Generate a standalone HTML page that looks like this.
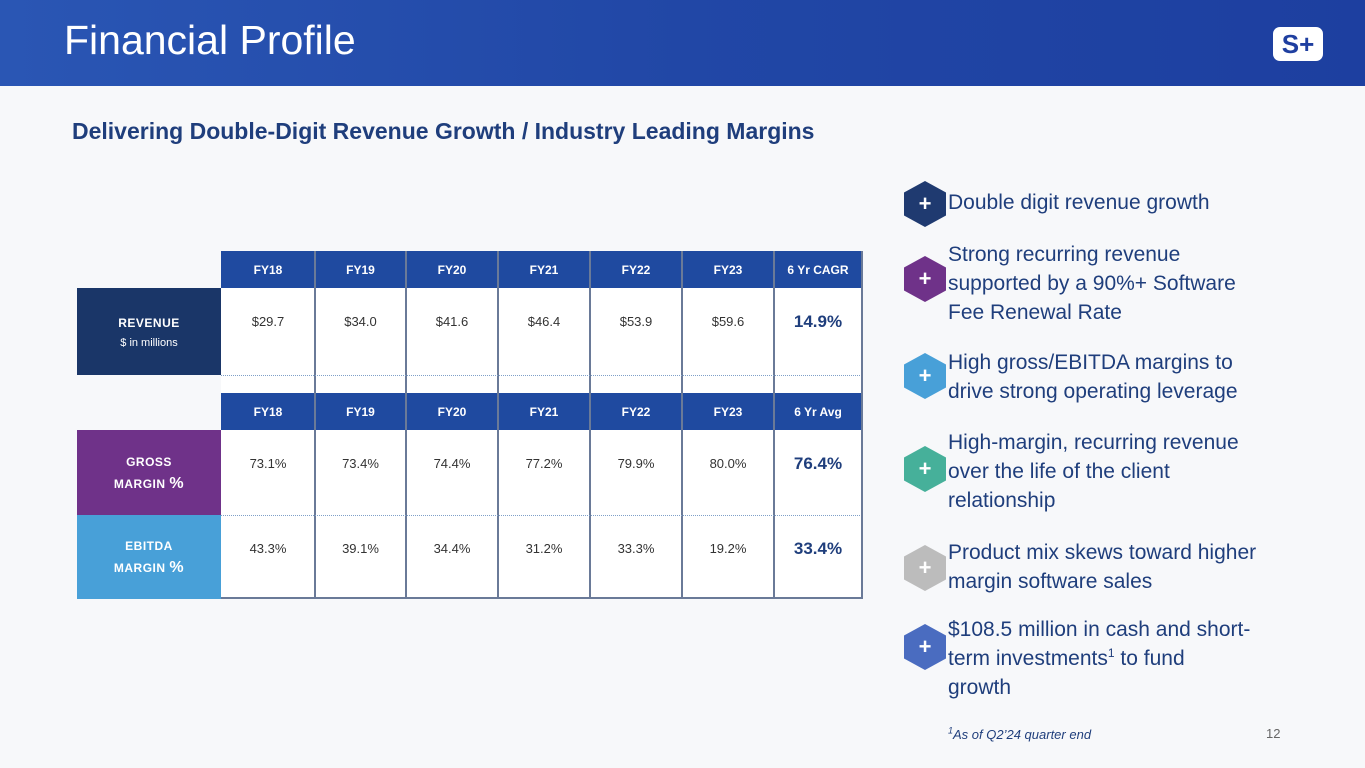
<!DOCTYPE html>
<html><head><meta charset="utf-8"><style>
*{margin:0;padding:0;box-sizing:border-box}
body{width:1365px;height:768px;position:relative;overflow:hidden;background:#f7f8fa;font-family:"Liberation Sans",sans-serif}
.abs{position:absolute}
.hdr{left:0;top:0;width:1365px;height:86px;background:linear-gradient(90deg,#2a56b4,#2147a6 50%,#1d3fa0)}
.title{left:64px;top:17px;font-size:41px;color:#fff}
.sub{left:72px;top:118px;font-size:23px;font-weight:bold;color:#1f3e7c}
.cell{position:absolute;display:flex;align-items:center;justify-content:center;font-size:13px;color:#333}
.th{background:#1f4aa0;color:#fff;font-weight:bold;font-size:12px}
.td{background:#fff}
.vl{position:absolute;width:2px;background:#6a7a98}
.lab{position:absolute;left:77px;width:144px;color:#fff;font-weight:bold;text-align:center;display:flex;flex-direction:column;justify-content:center;letter-spacing:0.5px;font-size:12px;line-height:22px;white-space:nowrap}
.big{font-weight:bold;font-size:17px;color:#1f3e7c}
.bul{position:absolute;left:948px;font-size:21px;color:#1f3e7c;line-height:29px;white-space:nowrap}
.bul sup{font-size:12px;line-height:0}
.hex{position:absolute;left:904px;width:42px;height:46px;clip-path:polygon(50% 0,100% 25%,100% 75%,50% 100%,0 75%,0 25%);color:#fff;font-size:22px;font-weight:bold;display:flex;align-items:center;justify-content:center}
</style></head><body>
<div class="abs hdr"></div>
<div class="abs title">Financial Profile</div>
<div class="abs" style="left:1273px;top:27px;width:50px;height:34px;background:#fff;border-radius:7px;color:#1f3fa0;font-weight:bold;font-size:26px;text-align:center;line-height:34px">S+</div>
<div class="abs sub">Delivering Double-Digit Revenue Growth / Industry Leading Margins</div>

<div id="tbl"></div>

<div class="hex" style="top:181px;background:#1f3a70">+</div>
<div class="bul" style="top:188px">Double digit revenue growth</div>
<div class="hex" style="top:256px;background:#6f3289">+</div>
<div class="bul" style="top:240px">Strong recurring revenue<br>supported by a 90%+ Software<br>Fee Renewal Rate</div>
<div class="hex" style="top:353px;background:#48a0d8">+</div>
<div class="bul" style="top:348px">High gross/EBITDA margins to<br>drive strong operating leverage</div>
<div class="hex" style="top:446px;background:#46b09a">+</div>
<div class="bul" style="top:428px">High-margin, recurring revenue<br>over the life of the client<br>relationship</div>
<div class="hex" style="top:545px;background:#bcbcbc">+</div>
<div class="bul" style="top:538px">Product mix skews toward higher<br>margin software sales</div>
<div class="hex" style="top:624px;background:#4a6cc0">+</div>
<div class="bul" style="top:615px">$108.5 million in cash and short-<br>term investments<sup>1</sup> to fund<br>growth</div>
<div class="abs" style="left:948px;top:727px;font-size:13px;font-style:italic;color:#1f3e7c"><sup style="font-size:9px;line-height:0">1</sup>As of Q2’24 quarter end</div>
<div class="abs" style="left:1266px;top:726px;font-size:13px;color:#666">12</div>

<script>
const years=["FY18","FY19","FY20","FY21","FY22","FY23"];
const revenue=["$29.7","$34.0","$41.6","$46.4","$53.9","$59.6"];
const revenueSummary="14.9%";
const gross=["73.1%","73.4%","74.4%","77.2%","79.9%","80.0%"];
const grossSummary="76.4%";
const ebitda=["43.3%","39.1%","34.4%","31.2%","33.3%","19.2%"];
const ebitdaSummary="33.4%";
const colX=[221,315,406,498,590,682,774,862];
const t=document.getElementById('tbl');
function cell(x,y,w,h,txt,cls,name){const d=document.createElement('div');d.className='cell '+(cls||'');
d.style.left=x+'px';d.style.top=y+'px';d.style.width=w+'px';d.style.height=h+'px';d.textContent=txt;


t.appendChild(d);return d;}
function header(y,last){for(let i=0;i<7;i++){cell(colX[i],y,colX[i+1]-colX[i],37,i<6?years[i]:last,'th','column-header');}}
function row(y,h,vals,sum,name){for(let i=0;i<6;i++){const c=cell(colX[i],y,colX[i+1]-colX[i],h,vals[i],'td',name);c.style.alignItems='flex-start';c.style.paddingTop='26px';}
const s=cell(colX[6],y,88,h,sum,'big td',name+'-summary');s.style.alignItems='flex-start';s.style.paddingTop='24px';}
const gap=document.createElement('div');gap.className='abs';gap.style.cssText='left:221px;top:375px;width:641px;height:18px;background:#fff';


t.appendChild(gap);
header(251,"6 Yr CAGR");row(288,87,revenue,revenueSummary,'revenue-cell');
header(393,"6 Yr Avg");row(430,85,gross,grossSummary,'gross-margin-cell');row(515,84,ebitda,ebitdaSummary,'ebitda-margin-cell');
for(let i=1;i<7;i++){const v=document.createElement('div');v.className='vl';v.style.left=(colX[i]-1)+'px';v.style.top='251px';v.style.height='348px';


t.appendChild(v);}
[[221,375],[221,515]].forEach(p=>{const l=document.createElement('div');l.className='abs';l.style.cssText='left:'+p[0]+'px;top:'+p[1]+'px;width:641px;border-top:1px dotted #7fa0c8';


t.appendChild(l);});
const b=document.createElement('div');b.className='abs';b.style.cssText='left:221px;top:597px;width:641px;height:2px;background:#6a7a98';


t.appendChild(b);
const r=document.createElement('div');r.className='abs';r.style.cssText='left:861px;top:251px;width:2px;height:348px;background:#6a7a98';


t.appendChild(r);
function lab(y,h,bg,html,name){const d=document.createElement('div');d.className='lab';d.style.top=y+'px';d.style.height=h+'px';d.style.background=bg;d.innerHTML=html;


t.appendChild(d);}
lab(288,87,'#1a3668','<div>REVENUE</div><div style="font-weight:normal;font-size:11px;letter-spacing:0;line-height:18px">$ in millions</div>','revenue-label');
lab(430,85,'#6f3289','<div>GROSS</div><div>MARGIN <span style="font-size:16px">%</span></div>','gross-margin-label');
lab(515,84,'#48a0d8','<div>EBITDA</div><div>MARGIN <span style="font-size:16px">%</span></div>','ebitda-margin-label');
</script>
</body></html>
